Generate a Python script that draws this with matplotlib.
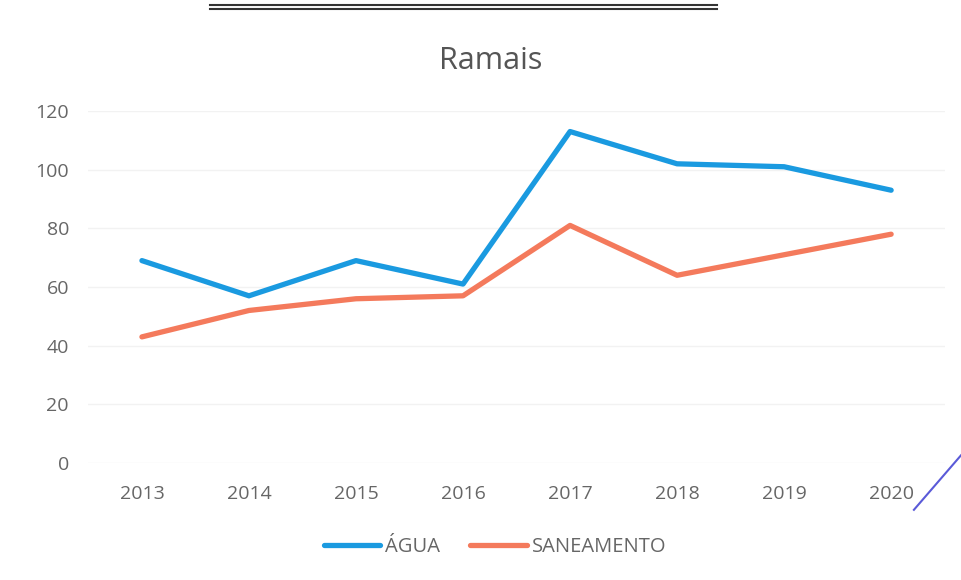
import matplotlib.pyplot as plt
from matplotlib.lines import Line2D

years = ['2013', '2014', '2015', '2016', '2017', '2018', '2019', '2020']
agua = [69, 57, 69, 61, 113, 102, 101, 93]
saneamento = [43, 52, 56, 57, 81, 64, 71, 78]

plt.rcParams['font.family'] = ['Open Sans', 'DejaVu Sans']
text_color = '#666666'

fig = plt.figure(figsize=(9.61, 5.80), dpi=100)
ax = fig.add_axes([0.092, 0.2017, 0.891, 0.6069])

x = range(len(years))
ax.plot(x, agua, color='#1A9AE0', lw=3.8, solid_capstyle='round', label='ÁGUA')
ax.plot(x, saneamento, color='#F47A5C', lw=3.8, solid_capstyle='round', label='SANEAMENTO')

ax.set_xlim(-0.5, len(years) - 0.5)
ax.set_ylim(0, 120)
ax.set_yticks(range(0, 121, 20))
ax.set_xticks(list(x))
ax.set_xticklabels(years)
ax.tick_params(length=0, labelsize=14, colors=text_color)
ax.tick_params(axis='y', pad=14)
ax.tick_params(axis='x', pad=16)
ax.grid(axis='y', color='#f2f2f2', lw=1)
ax.set_axisbelow(True)
for s in ax.spines.values():
    s.set_visible(False)

fig.text(0.511, 0.895, 'Ramais', ha='center', va='center', fontsize=22, color='#555555')

ax.legend(loc='center', bbox_to_anchor=(0.475, -0.239), ncol=2, frameon=False,
          fontsize=14.5, handlelength=2.8, handletextpad=0.25, columnspacing=1.5,
          labelcolor=text_color)

# double rule at the top of the scanned page
for yy in (0.991, 0.984):
    fig.add_artist(Line2D([0.219, 0.746], [yy, yy], color='#333333', lw=1.5))
# pen stroke in the corner
fig.add_artist(Line2D([0.951, 1.0], [0.121, 0.215], color='#5a5ad8', lw=1.5))

fig.savefig('out.png', dpi=100, facecolor='white')
